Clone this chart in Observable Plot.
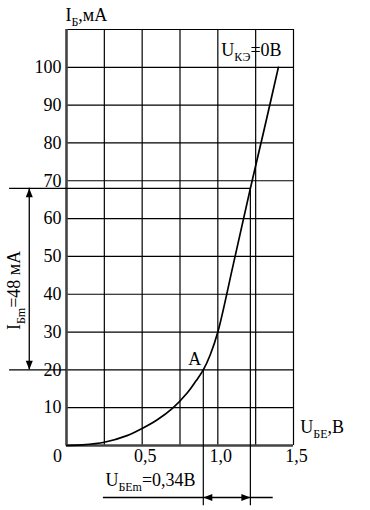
<!DOCTYPE html>
<html>
<head>
<meta charset="utf-8">
<script src="https://cdn.jsdelivr.net/npm/d3@7"></script>
<script src="https://cdn.jsdelivr.net/npm/@observablehq/plot@0.6"></script>
<style>
  html, body { margin: 0; padding: 0; background: #fff; }
  svg, svg text, svg tspan { font-family: "Liberation Serif", "Times New Roman", serif !important; }
</style>
</head>
<body>
<div id="chart"></div>
<script>
// ---- data ----
const xGrid = [0.25, 0.5, 0.75, 1.0, 1.25, 1.5];
const yGrid = [10, 20, 30, 40, 50, 60, 70, 80, 90, 100, 110];
const xTickValues = [0.5, 1.0, 1.5];
const xTickLabels = ["0,5", "1,0", "1,5"];
const yTickValues = [10, 20, 30, 40, 50, 60, 70, 80, 90, 100];
const yTickLabels = ["10", "20", "30", "40", "50", "60", "70", "80", "90", "100"];
// input characteristic U_BE (V) -> I_B (mA)
const curveU = [0, 0.1, 0.25, 0.4, 0.5, 0.6, 0.7, 0.8, 0.856, 0.904, 0.95, 1.0, 1.1, 1.215, 1.3, 1.4];
const curveI = [0, 0.15, 0.85, 2.6, 4.5, 6.8, 9.8, 14.0, 17.1, 20, 24.0, 30, 47.5, 68, 82.5, 100];
// operating swing
const pointA = {u: 0.904, i: 20};
const pointB = {u: 1.215, i: 68};

const curve = curveU.map((u, k) => ({u, i: curveI[k]}));

// annotation geometry (data units)
const leftX = -0.376;     // start of the horizontal extension lines
const vArrowX = -0.246;   // vertical dimension arrow
const hArrowY = -13.75;   // horizontal dimension arrow
const dropY = -15.9;      // bottom end of the projection lines

const headUp = {draw(c){ c.moveTo(0,0); c.lineTo(3.5,9); c.lineTo(-3.5,9); c.closePath(); }};
const headDown = {draw(c){ c.moveTo(0,0); c.lineTo(3.5,-9); c.lineTo(-3.5,-9); c.closePath(); }};
const headLeft = {draw(c){ c.moveTo(0,0); c.lineTo(9,3.5); c.lineTo(9,-3.5); c.closePath(); }};
const headRight = {draw(c){ c.moveTo(0,0); c.lineTo(-9,3.5); c.lineTo(-9,-3.5); c.closePath(); }};

const FS = 18;
const FF = "Liberation Serif";
const textOpts = {fontSize: FS, fontFamily: FF, fill: "black", lineAnchor: "bottom"};

const plot = Plot.plot({
  width: 370,
  height: 510,
  marginLeft: 66,
  marginRight: 77,
  marginTop: 29,
  marginBottom: 65,
  x: {domain: [0, 1.5], axis: null},
  y: {domain: [0, 110], axis: null},
  style: {fontFamily: "'Liberation Serif', serif", fontSize: "18px", background: "white", overflow: "visible"},
  marks: [
    // grid
    Plot.ruleX(xGrid, {x: d => d, y1: 0, y2: 110, stroke: "black", strokeWidth: 1.2}),
    Plot.ruleY(yGrid, {y: d => d, x1: 0, x2: 1.5, stroke: "black", strokeWidth: 1.2}),
    // axes
    Plot.ruleX([0], {x: d => d, y1: 0, y2: 110, stroke: "#444", strokeWidth: 2.6}),
    Plot.ruleY([0], {y: d => d, x1: 0, x2: 1.5, stroke: "#444", strokeWidth: 2.4}),
    // projection lines
    Plot.ruleY([pointB], {y: "i", x1: leftX, x2: "u", stroke: "black", strokeWidth: 1.2}),
    Plot.ruleY([pointA], {y: "i", x1: leftX, x2: 0, stroke: "black", strokeWidth: 1.2}),
    Plot.ruleX([pointA, pointB], {x: "u", y1: "i", y2: dropY, stroke: "black", strokeWidth: 1.2}),
    // dimension arrows
    Plot.ruleX([vArrowX], {x: d => d, y1: pointA.i, y2: pointB.i, stroke: "black", strokeWidth: 1.3}),
    Plot.dot([pointB], {x: () => vArrowX, y: "i", symbol: headUp, fill: "black", stroke: "none"}),
    Plot.dot([pointA], {x: () => vArrowX, y: "i", symbol: headDown, fill: "black", stroke: "none"}),
    Plot.ruleY([hArrowY], {y: d => d, x1: 0.244, x2: 1.366, stroke: "black", strokeWidth: 1.3}),
    Plot.dot([pointA], {x: "u", y: () => hArrowY, symbol: headLeft, fill: "black", stroke: "none"}),
    Plot.dot([pointB], {x: "u", y: () => hArrowY, symbol: headRight, fill: "black", stroke: "none"}),
    // characteristic
    Plot.line(curve, {x: "u", y: "i", curve: "catmull-rom", stroke: "black", strokeWidth: 1.7}),
    // tick labels
    Plot.text(yTickValues, {x: 0, y: d => d, text: (d, k) => yTickLabels[k], textAnchor: "end", dx: -5, fontSize: FS, fontFamily: FF, fill: "black", lineAnchor: "middle"}),
    Plot.text(xTickValues, {x: d => d, y: 0, text: (d, k) => xTickLabels[k], textAnchor: "middle", dx: 3, dy: 16, ...textOpts}),
    Plot.text(["0"], {x: -0.059, y: 0, text: d => d, textAnchor: "middle", dy: 16, ...textOpts}),
    // titles and annotations
    Plot.text(["I_{Б},мА"], {x: -0.007, y: 112.3, text: d => d, textAnchor: "start", ...textOpts}),
    Plot.text(["U_{КЭ}=0В"], {x: 1.023, y: 103.1, text: d => d, textAnchor: "start", ...textOpts}),
    Plot.text(["U_{БЕ},В"], {x: 1.545, y: 3.2, text: d => d, textAnchor: "start", ...textOpts}),
    Plot.text(["A"], {x: 0.805, y: 21.2, text: d => d, textAnchor: "start", ...textOpts}),
    Plot.text(["U_{БЕm}=0,34В"], {x: 0.257, y: -10.8, text: d => d, textAnchor: "start", ...textOpts}),
    Plot.text(["I_{Бm}=48 мА"], {x: -0.31, y: 41, text: d => d, textAnchor: "middle", rotate: -90, ...textOpts})
  ]
});

// turn "_{...}" markers into subscript tspans
const NS = "http://www.w3.org/2000/svg";
plot.querySelectorAll("text").forEach(t => {
  const s = t.textContent;
  if (!s.includes("_{")) return;
  t.textContent = "";
  const re = /_\{([^}]*)\}/g;
  let last = 0, m, prevSub = false;
  const add = (str, sub) => {
    if (!str) return;
    const ts = document.createElementNS(NS, "tspan");
    ts.textContent = str;
    if (sub) { ts.setAttribute("font-size", "12"); ts.setAttribute("dy", "5"); }
    else if (prevSub) { ts.setAttribute("dy", "-5"); }
    prevSub = sub;
    t.appendChild(ts);
  };
  while ((m = re.exec(s))) {
    add(s.slice(last, m.index), false);
    add(m[1], true);
    last = re.lastIndex;
  }
  add(s.slice(last), false);
});

document.getElementById("chart").appendChild(plot);
</script>
</body>
</html>
